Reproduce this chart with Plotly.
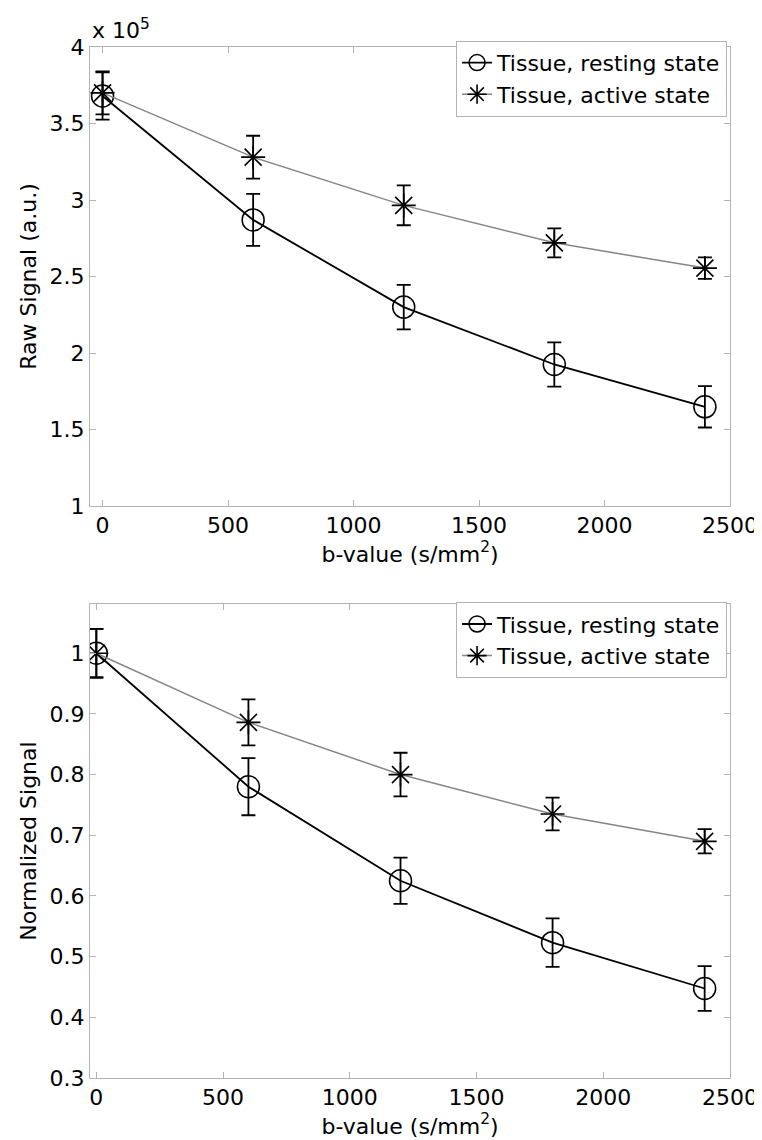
import plotly.graph_objects as go

b_values = [0, 600, 1200, 1800, 2400]

# Raw signal (a.u.)
raw_resting = [368000, 287000, 230000, 192500, 164800]
raw_resting_err = [15500, 17000, 14500, 14500, 13500]
raw_active = [370000, 328000, 296500, 272000, 255500]
raw_active_err = [14000, 14000, 13000, 9500, 7000]

# Normalized signal
norm_resting = [1.0, 0.780, 0.625, 0.523, 0.4475]
norm_resting_err = [0.04, 0.047, 0.038, 0.040, 0.037]
norm_active = [1.0, 0.886, 0.800, 0.735, 0.690]
norm_active_err = [0.04, 0.038, 0.036, 0.027, 0.020]

raw_ticks = [100000, 150000, 200000, 250000, 300000, 350000, 400000]
raw_ticktext = ["1", "1.5", "2", "2.5", "3", "3.5", "4"]
norm_ticks = [0.3, 0.4, 0.5, 0.6, 0.7, 0.8, 0.9, 1.0]
norm_ticktext = ["0.3", "0.4", "0.5", "0.6", "0.7", "0.8", "0.9", "1"]
x_ticks = [0, 500, 1000, 1500, 2000, 2500]

names = ["Tissue, resting state", "Tissue, active state"]

FONT = "DejaVu Sans, Liberation Sans, Arial, sans-serif"
FS = 22
AX = "#b3b3b3"

fig = go.Figure()

def add_pair(y_rest, e_rest, y_act, e_act, xa, ya, legend):
    fig.add_trace(go.Scatter(
        x=b_values, y=y_rest, xaxis=xa, yaxis=ya, name=names[0], legend=legend,
        mode="lines+markers",
        line=dict(color="black", width=1.8),
        marker=dict(symbol="circle-open", size=22, color="black", line=dict(width=1.5, color="black")),
        error_y=dict(type="data", array=e_rest, visible=True, color="black", thickness=1.8, width=7),
    ))
    fig.add_trace(go.Scatter(
        x=b_values, y=y_act, xaxis=xa, yaxis=ya, name=names[1], legend=legend,
        mode="lines+markers",
        line=dict(color="#858585", width=1.5),
        marker=dict(symbol="asterisk-open", size=20, color="black", line=dict(width=1.6, color="black")),
        error_y=dict(type="data", array=e_act, visible=True, color="black", thickness=1.8, width=7),
    ))

add_pair(raw_resting, raw_resting_err, raw_active, raw_active_err, "x", "y", "legend")
add_pair(norm_resting, norm_resting_err, norm_active, norm_active_err, "x2", "y2", "legend2")

axis_common = dict(
    showline=True, linecolor=AX, linewidth=1, mirror="ticks",
    ticks="inside", tickcolor=AX, ticklen=6, tickwidth=1,
    showgrid=False, zeroline=False,
    tickfont=dict(family=FONT, size=FS, color="black"),
)

fig.update_layout(
    width=762, height=1140,
    margin=dict(l=82, r=34, t=39, b=70),
    paper_bgcolor="white", plot_bgcolor="white",
    font=dict(family=FONT, size=FS, color="black"),
    xaxis=dict(domain=[0, 1], anchor="y", range=[-50, 2500], tickvals=x_ticks,
               title=dict(text="b-value (s/mm<sup>2</sup>)", standoff=2, font=dict(size=FS)), **axis_common),
    yaxis=dict(domain=[0.5548, 1.0], anchor="x", range=[100000, 400000], tickvals=raw_ticks, ticktext=raw_ticktext,
               title=dict(text="Raw Signal (a.u.)", standoff=6, font=dict(size=FS)), **axis_common),
    xaxis2=dict(domain=[0, 1], anchor="y2", range=[-25, 2500], tickvals=x_ticks,
                title=dict(text="b-value (s/mm<sup>2</sup>)", standoff=2, font=dict(size=FS)), **axis_common),
    yaxis2=dict(domain=[0.0, 0.4597], anchor="x2", range=[0.3, 1.081], tickvals=norm_ticks, ticktext=norm_ticktext,
                title=dict(text="Normalized Signal", standoff=6, font=dict(size=FS)), **axis_common),
    legend=dict(x=0.9954, y=1.006, xanchor="right", yanchor="top", bgcolor="white",
                bordercolor=AX, borderwidth=1, font=dict(family=FONT, size=FS),
                itemwidth=30, tracegroupgap=0),
    legend2=dict(x=0.9954, y=0.4615, xanchor="right", yanchor="top", bgcolor="white",
                 bordercolor=AX, borderwidth=1, font=dict(family=FONT, size=FS),
                 itemwidth=30, tracegroupgap=0),
    annotations=[dict(text="x 10<sup>5</sup>", xref="paper", yref="paper", x=0.0, y=1.0,
                      xanchor="left", yanchor="bottom", showarrow=False, yshift=2,
                      font=dict(family=FONT, size=FS, color="black"))],
    showlegend=True,
)

fig.write_html("out.html")
